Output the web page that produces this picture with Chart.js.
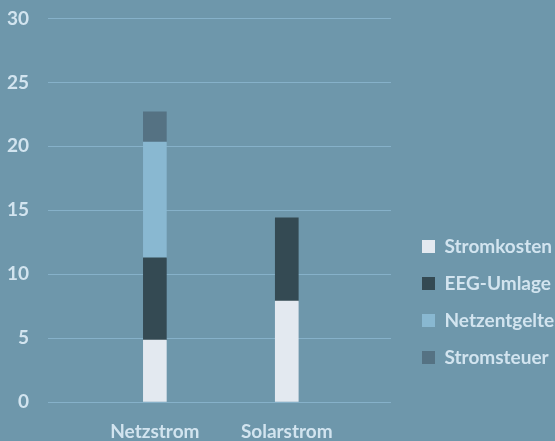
<!DOCTYPE html>
<html>
<head>
<meta charset="utf-8">
<script src="https://cdn.jsdelivr.net/npm/chart.js@4"></script>
<style>
  html, body { margin: 0; padding: 0; background: #6e97ab; overflow: hidden; }
  #wrap { width: 555px; height: 441px; position: relative; }
</style>
</head>
<body>
<div id="wrap"><canvas id="chart"></canvas></div>
<script>
// Strompreis-Bestandteile (ct/kWh)
const categories = ['Netzstrom', 'Solarstrom'];
const stromkosten = [4.85, 7.9];
const eegUmlage = [6.42, 6.5];
const netzentgelte = [9.07, null];
const stromsteuer = [2.35, null];
const yTicks = [0, 5, 10, 15, 20, 25, 30];

const series = [
    { label: 'Stromkosten', values: stromkosten, color: '#e3e9f0' },
    { label: 'EEG-Umlage', values: eegUmlage, color: '#344a53' },
    { label: 'Netzentgelte', values: netzentgelte, color: '#89b8d1' },
    { label: 'Stromsteuer', values: stromsteuer, color: '#557283' }
];

const textColor = '#d2e4ef';
Chart.defaults.font.family = 'Lato';
Chart.defaults.font.weight = 'bold';
Chart.defaults.font.size = 19;
Chart.defaults.color = textColor;

const ctx = document.getElementById('chart');

new Chart(ctx, {
    type: 'bar',
    data: {
        datasets: series.map(s => ({
            label: s.label,
            data: s.values.map((v, i) => ({ x: i, y: v })),
            backgroundColor: s.color,
            borderWidth: 0,
            barThickness: 23
        }))
    },
    options: {
        responsive: true,
        maintainAspectRatio: false,
        animation: false,
        layout: { padding: { top: 18.5, left: 7, right: 0, bottom: 0 } },
        plugins: {
            tooltip: { enabled: false },
            legend: {
                position: 'right',
                align: 'center',
                maxWidth: 151, // Text darf rechts abgeschnitten werden wie im Original
                title: { display: true, text: '', font: { size: 10, lineHeight: 1 }, padding: { top: 134.5, bottom: 0 } },
                labels: { boxWidth: 13, boxHeight: 13, padding: 18, color: textColor }
            }
        },
        scales: {
            x: {
                type: 'linear',
                stacked: true,
                offset: false,
                min: -0.81,
                max: 1.79,
                grid: { display: false, drawTicks: false },
                border: { display: false },
                afterBuildTicks: scale => {
                    scale.ticks = categories.map((c, i) => ({ value: i }));
                },
                afterFit: scale => { scale.height = 39; },
                ticks: {
                    padding: 20,
                    font: { lineHeight: 1 },
                    maxRotation: 0,
                    autoSkip: false,
                    callback: v => categories[v]
                }
            },
            y: {
                stacked: true,
                min: 0,
                max: 30,
                afterBuildTicks: scale => {
                    scale.ticks = yTicks.map(v => ({ value: v }));
                },
                afterFit: scale => {
                    scale.width = 41;
                    scale.paddingTop = 0;
                    scale.paddingBottom = 0;
                },
                grid: { color: '#86b1c9', lineWidth: 1, drawTicks: false },
                border: { display: false },
                ticks: { padding: 19 }
            },
            y2: {
                position: 'right',
                display: true,
                grid: { display: false, drawTicks: false },
                border: { display: false },
                ticks: { display: false },
                afterFit: scale => { scale.width = 13; }
            }
        }
    }
});
</script>
</body>
</html>
